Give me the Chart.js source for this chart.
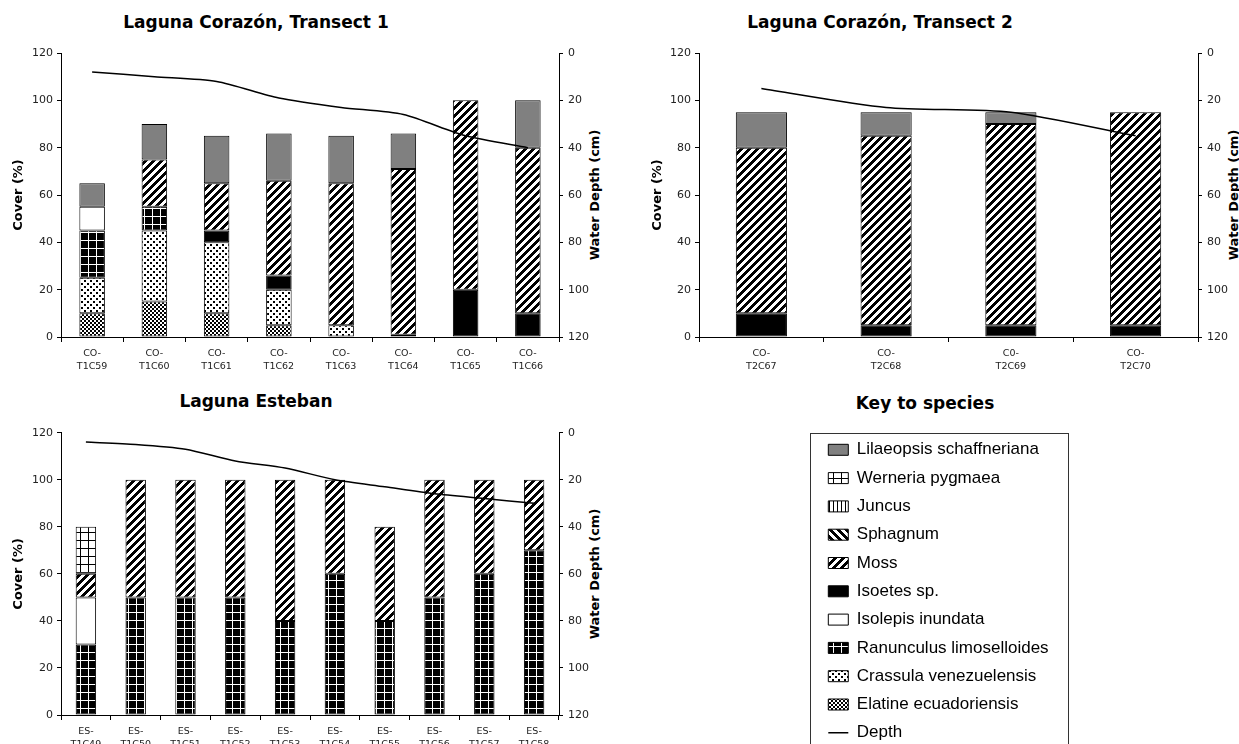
<!DOCTYPE html>
<html><head><meta charset="utf-8">
<script src="https://cdn.jsdelivr.net/npm/chart.js@4.4.1/dist/chart.umd.min.js"></script>
<style>
html,body{margin:0;padding:0;width:1239px;height:744px;overflow:hidden;background:#fff;position:relative;}
canvas{position:absolute;}
.title{position:absolute;font-family:'DejaVu Sans',sans-serif;font-weight:bold;font-size:17px;color:#000;white-space:nowrap;transform:translate(-50%,-50%);}
.rt{position:absolute;font-family:'DejaVu Sans',sans-serif;font-weight:bold;font-size:13px;color:#000;white-space:nowrap;transform:translate(-50%,-50%) rotate(-90deg);}
#keybox{position:absolute;left:810px;top:433px;width:257px;height:330px;border:1px solid #333;}
</style></head><body>
<div class="title" style="left:256px;top:22px">Laguna Corazón, Transect 1</div>
<div class="title" style="left:880px;top:22px">Laguna Corazón, Transect 2</div>
<div class="title" style="left:256px;top:401px">Laguna Esteban</div>
<div class="title" style="left:925px;top:403px">Key to species</div>
<div class="rt" style="left:594px;top:195px">Water Depth (cm)</div>
<div class="rt" style="left:1233px;top:195px">Water Depth (cm)</div>
<div class="rt" style="left:594px;top:574px">Water Depth (cm)</div>
<div id="keybox"></div>
<canvas id="c1" width="620" height="344" style="left:0;top:40px"></canvas>
<canvas id="c2" width="599" height="344" style="left:640px;top:40px"></canvas>
<canvas id="c3" width="620" height="344" style="left:0;top:420px"></canvas>
<canvas id="c4" width="500" height="340" style="left:817px;top:430px"></canvas>
<script>
// ---------------- DATA ----------------
const speciesNames = ['Elatine ecuadoriensis','Crassula venezuelensis','Ranunculus limoselloides','Isolepis inundata','Isoetes sp.','Moss','Sphagnum','Juncus','Werneria pygmaea','Lilaeopsis schaffneriana'];
const yTicks = [0, 20, 40, 60, 80, 100, 120];

// Laguna Corazón, Transect 1
const t1Labels = [['CO-','T1C59'],['CO-','T1C60'],['CO-','T1C61'],['CO-','T1C62'],['CO-','T1C63'],['CO-','T1C64'],['CO-','T1C65'],['CO-','T1C66']];
const t1Elatine    = [10, 15, 10, 5, null, null, null, null];
const t1Crassula   = [15, 30, 30, 15, 5, null, null, null];
const t1Ranunculus = [20, 10, null, null, null, null, null, null];
const t1Isolepis   = [10, null, null, null, null, null, null, null];
const t1Isoetes    = [null, null, 5, 6, null, 1, 20, 10];
const t1Moss       = [null, 20, 20, 40, 60, 70, 80, 70];
const t1Lilaeopsis = [10, 15, 20, 20, 20, 15, null, 20];
const t1Depth      = [8, 10, 12, 19, 23, 26, 35, 40];

// Laguna Corazón, Transect 2
const t2Labels = [['CO-','T2C67'],['CO-','T2C68'],['C0-','T2C69'],['CO-','T2C70']];
const t2Isoetes    = [10, 5, 5, 5];
const t2Moss       = [70, 80, 85, 90];
const t2Lilaeopsis = [15, 10, 5, null];
const t2Depth      = [15, 23, 25, 35];

// Laguna Esteban
const esLabels = [['ES-','T1C49'],['ES-','T1C50'],['ES-','T1C51'],['ES-','T1C52'],['ES-','T1C53'],['ES-','T1C54'],['ES-','T1C55'],['ES-','T1C56'],['ES-','T1C57'],['ES-','T1C58']];
const esRanunculus = [30, 50, 50, 50, 40, 60, 40, 50, 60, 70];
const esIsolepis   = [20, null, null, null, null, null, null, null, null, null];
const esMoss       = [10, 50, 50, 50, 60, 40, 40, 50, 40, 30];
const esWerneria   = [20, null, null, null, null, null, null, null, null, null];
const esDepth      = [4, 5, 7, 12, 15, 20, 23, 26, 28, 30];

// ---------------- PATTERNS ----------------
function pattern(size, fn) {
  const c = document.createElement('canvas'); c.width = c.height = size;
  const g = c.getContext('2d');
  g.fillStyle = '#fff'; g.fillRect(0, 0, size, size);
  g.fillStyle = '#000';
  for (let y = 0; y < size; y++) for (let x = 0; x < size; x++) if (fn(x, y)) g.fillRect(x, y, 1, 1);
  return g.createPattern(c, 'repeat');
}
const fills = {
  'Elatine ecuadoriensis': pattern(4, (x, y) => (Math.floor(x/2) + Math.floor(y/2)) % 2 === 0),
  'Crassula venezuelensis': pattern(6, (x, y) => (x < 2 && y < 2) || (x >= 3 && x < 5 && y >= 3 && y < 5)),
  'Ranunculus limoselloides': pattern(8, (x, y) => x !== 0 && y !== 0),
  'Isolepis inundata': '#ffffff',
  'Isoetes sp.': '#000000',
  'Moss': pattern(8, (x, y) => (x + y) % 8 < 4),
  'Sphagnum': pattern(8, (x, y) => (x - y + 8) % 8 < 4),
  'Juncus': pattern(4, (x, y) => x === 0),
  'Werneria pygmaea': pattern(8, (x, y) => x === 0 || y === 0),
  'Lilaeopsis schaffneriana': '#808080'
};

Chart.defaults.font.family = "'DejaVu Sans', sans-serif";
Chart.defaults.color = '#222';

function buildChart(id, labels, series, depth, g) {
  const datasets = series.map(s => ({
    type: 'bar', label: s[0], data: s[1], backgroundColor: fills[s[0]],
    borderColor: '#000', borderWidth: 1, borderSkipped: false,
    barPercentage: 0.41, categoryPercentage: 1, yAxisID: 'y', order: 1
  }));
  datasets.push({
    type: 'line', label: 'Depth', data: depth, borderColor: '#000', borderWidth: 1.5,
    pointRadius: 0, tension: 0.25, yAxisID: 'y1', order: 0, fill: false
  });
  return new Chart(document.getElementById(id), {
    type: 'bar',
    data: { labels: labels, datasets: datasets },
    options: {
      responsive: false, animation: false, devicePixelRatio: 1,
      layout: { padding: { top: g.padTop, left: 0, right: 0, bottom: 0 } },
      plugins: { legend: { display: false }, tooltip: { enabled: false } },
      scales: {
        x: {
          stacked: true,
          grid: { display: true, drawOnChartArea: false, drawTicks: true, tickLength: 5, color: '#000', offset: true },
          border: { display: true, color: '#000', width: 1 },
          ticks: { font: { size: 9.5, lineHeight: 1.35 }, color: '#222', padding: 5, maxRotation: 0, autoSkip: false },
          afterFit: s => { s.height = g.xH; }
        },
        y: {
          stacked: true, min: 0, max: 120, position: 'left',
          afterBuildTicks: s => { s.ticks = yTicks.map(v => ({ value: v })); },
          grid: { display: true, drawOnChartArea: false, drawTicks: true, tickLength: 4, color: '#000' },
          border: { display: true, color: '#000', width: 1 },
          ticks: { font: { size: 11 }, color: '#222', padding: 4 },
          title: { display: true, text: 'Cover (%)', font: { size: 13, weight: 'bold' }, color: '#000', padding: { top: g.yTitlePad, bottom: 0 } },
          afterFit: s => { s.width = g.yW; }
        },
        y1: {
          stacked: false, min: 0, max: 120, reverse: true, position: 'right',
          afterBuildTicks: s => { s.ticks = yTicks.map(v => ({ value: v })); },
          grid: { display: true, drawOnChartArea: false, drawTicks: true, tickLength: 4, color: '#000' },
          border: { display: true, color: '#000', width: 1 },
          ticks: { font: { size: 11 }, color: '#222', padding: 5 },
          afterFit: s => { s.width = g.y1W; }
        }
      }
    }
  });
}

buildChart('c1', t1Labels, [
  ['Elatine ecuadoriensis', t1Elatine], ['Crassula venezuelensis', t1Crassula],
  ['Ranunculus limoselloides', t1Ranunculus], ['Isolepis inundata', t1Isolepis],
  ['Isoetes sp.', t1Isoetes], ['Moss', t1Moss], ['Lilaeopsis schaffneriana', t1Lilaeopsis]
], t1Depth, { padTop: 13, xH: 47, yW: 61, y1W: 61, yTitlePad: 11 });

buildChart('c2', t2Labels, [
  ['Isoetes sp.', t2Isoetes], ['Moss', t2Moss], ['Lilaeopsis schaffneriana', t2Lilaeopsis]
], t2Depth, { padTop: 13, xH: 47, yW: 59, y1W: 41, yTitlePad: 10 });

buildChart('c3', esLabels, [
  ['Ranunculus limoselloides', esRanunculus], ['Isolepis inundata', esIsolepis],
  ['Moss', esMoss], ['Werneria pygmaea', esWerneria]
], esDepth, { padTop: 12.7, xH: 49, yW: 61, y1W: 61, yTitlePad: 11 });

// Key to species (legend-only chart)
const keyOrder = speciesNames.slice().reverse().concat(['Depth']);
new Chart(document.getElementById('c4'), {
  type: 'bar',
  data: { labels: [], datasets: [] },
  options: {
    responsive: false, animation: false, devicePixelRatio: 1,
    layout: { padding: 0 },
    scales: { x: { display: false }, y: { display: false } },
    plugins: {
      tooltip: { enabled: false },
      legend: {
        display: true, position: 'left', align: 'start',
        labels: {
          font: { family: "'Liberation Sans', Arial, sans-serif", size: 17 },
          color: '#000', usePointStyle: true, pointStyleWidth: 20, boxWidth: 20, boxHeight: 11, padding: 11.3,
          generateLabels: () => keyOrder.map((name, i) => name === 'Depth'
            ? { text: name, fillStyle: '#000', strokeStyle: '#000', lineWidth: 1.5, pointStyle: 'line', hidden: false, datasetIndex: i }
            : { text: name, fillStyle: fills[name], strokeStyle: '#000', lineWidth: 1, pointStyle: 'rect', hidden: false, datasetIndex: i })
        }
      }
    }
  }
});
</script>
</body></html>
